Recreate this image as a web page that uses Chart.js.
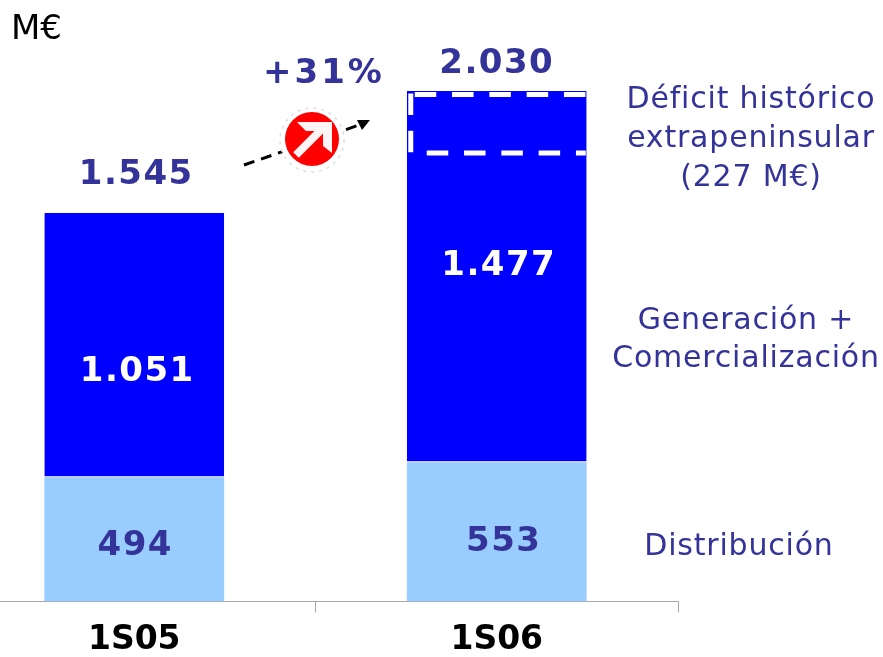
<!DOCTYPE html>
<html>
<head>
<meta charset="utf-8">
<script src="https://cdn.jsdelivr.net/npm/chart.js@4"></script>
<style>
html, body { margin: 0; padding: 0; background: #fff; overflow: hidden; width: 883px; height: 657px; }
#wrap { position: absolute; left: -47px; top: 0; width: 930px; height: 668px; }
</style>
</head>
<body>
<div id="wrap"><canvas id="chart"></canvas></div>
<script>
// Values
const categories = ['1S05', '1S06'];
const distribucion = [494, 553];
const generacion = [1051, 1477];
const totals = [1545, 2030];
const deficit = 227;
const growthLabel = '+31%';
const unitLabel = 'M€';
const sideLabels = [
    ['Déficit histórico', 'extrapeninsular', '(227 M€)'],
    ['Generación +', 'Comercialización'],
    ['Distribución']
];

const navy = '#333399';
const valueFont = 'bold 34px "DejaVu Sans"';

// spanish thousands separator
function fmt(v) {
    return String(v).replace(/\B(?=(\d{3})+$)/g, '.');
}

// small nudges so labels sit where they do in the original, relative to the bars
const distOffset = [[1, 7], [7, 10]];
const genOffset = [[3, 27], [2, -11]];
const totalOffset = [[2, -38], [0, -27]];

const annotations = {
    id: 'annotations',
    afterDatasetsDraw(chart) {
        const { ctx, scales: { x, y } } = chart;
        ctx.save();
        ctx.textAlign = 'center';
        ctx.textBaseline = 'middle';
        ctx.fillStyle = navy;
        ctx.font = valueFont;
        ctx.letterSpacing = '1.5px';

        // totals above the stacks, then the values inside each segment
        categories.forEach((c, i) => {
            const cx = x.getPixelForValue(i);
            ctx.fillStyle = navy;
            ctx.fillText(fmt(totals[i]), cx + totalOffset[i][0], y.getPixelForValue(totals[i]) + totalOffset[i][1]);
            ctx.fillText(fmt(distribucion[i]), cx + distOffset[i][0], y.getPixelForValue(distribucion[i] / 2) + distOffset[i][1]);
            ctx.fillStyle = '#fff';
            ctx.fillText(fmt(generacion[i]), cx + genOffset[i][0], y.getPixelForValue(distribucion[i] + generacion[i] / 2) + genOffset[i][1]);
        });

        // dashed box for the deficit
        const left = x.getPixelForValue(1) - 90;
        const right = x.getPixelForValue(1) + 89;
        const top = y.getPixelForValue(totals[1]) + 3.5;
        const bottom = y.getPixelForValue(totals[1] - deficit) + 5;
        ctx.strokeStyle = '#fff';
        ctx.lineWidth = 5;
        ctx.setLineDash([21.5, 15.8]);
        ctx.beginPath();
        ctx.moveTo(left + 8, top);
        ctx.lineTo(right, top);
        ctx.stroke();
        ctx.beginPath();
        ctx.moveTo(left + 20, bottom);
        ctx.lineTo(right, bottom);
        ctx.stroke();
        ctx.beginPath();
        ctx.moveTo(left + 4, top - 1);
        ctx.lineTo(left + 4, bottom);
        ctx.stroke();
        ctx.setLineDash([]);

        // growth arrow between the two bars
        const ox = chart.canvas.getBoundingClientRect().left;
        const px = v => v - ox;
        ctx.strokeStyle = '#000';
        ctx.lineWidth = 3;
        ctx.setLineDash([11, 7]);
        ctx.beginPath();
        ctx.moveTo(px(244), 165);
        ctx.lineTo(px(362), 124);
        ctx.stroke();
        ctx.setLineDash([]);
        ctx.fillStyle = '#000';
        ctx.beginPath();
        ctx.moveTo(px(370), 120);
        ctx.lineTo(px(357), 120);
        ctx.lineTo(px(362), 130);
        ctx.closePath();
        ctx.fill();

        // red badge
        ctx.beginPath();
        ctx.arc(px(312), 140, 32, 0, Math.PI * 2);
        ctx.fillStyle = '#fff';
        ctx.fill();
        ctx.strokeStyle = '#dddddd';
        ctx.lineWidth = 1.5;
        ctx.setLineDash([3, 5]);
        ctx.stroke();
        ctx.setLineDash([]);
        ctx.beginPath();
        ctx.arc(px(312), 139, 27, 0, Math.PI * 2);
        ctx.fillStyle = '#f00';
        ctx.fill();
        ctx.strokeStyle = '#fff4f4';
        ctx.lineWidth = 8;
        ctx.beginPath();
        ctx.moveTo(px(296), 155);
        ctx.lineTo(px(325), 126);
        ctx.stroke();
        ctx.fillStyle = '#fff4f4';
        ctx.beginPath();
        ctx.moveTo(px(297), 122);
        ctx.lineTo(px(332), 122);
        ctx.lineTo(px(332), 153);
        ctx.lineTo(px(323), 146);
        ctx.lineTo(px(323), 131);
        ctx.lineTo(px(306), 131);
        ctx.closePath();
        ctx.fill();

        // free text
        ctx.fillStyle = navy;
        ctx.font = valueFont;
        ctx.letterSpacing = '3px';
        ctx.fillText(growthLabel, px(324), 74);

        ctx.letterSpacing = '0px';
        ctx.font = '34px "DejaVu Sans"';
        ctx.fillStyle = '#000';
        ctx.textAlign = 'left';
        ctx.fillText(unitLabel, px(11), 30);

        ctx.letterSpacing = '0.8px';
        ctx.font = '30px "DejaVu Sans"';
        ctx.fillStyle = navy;
        ctx.textAlign = 'center';
        sideLabels[0].forEach((t, i) => ctx.fillText(t, px(751), 100 + i * 39));
        sideLabels[1].forEach((t, i) => ctx.fillText(t, px(746), 321 + i * 38));
        sideLabels[2].forEach(t => ctx.fillText(t, px(739), 547));
        ctx.restore();
    }
};

new Chart(document.getElementById('chart'), {
    type: 'bar',
    data: {
        labels: categories,
        datasets: [{
            label: 'Distribución',
            data: distribucion,
            backgroundColor: '#99ccff',
            borderWidth: 0,
            barPercentage: 0.496,
            categoryPercentage: 1
        }, {
            label: 'Generación + Comercialización',
            data: generacion,
            backgroundColor: '#0000ff',
            borderColor: '#ffffff',
            borderWidth: { bottom: 1 },
            borderSkipped: false,
            barPercentage: 0.496,
            categoryPercentage: 1
        }]
    },
    plugins: [annotations],
    options: {
        responsive: true,
        maintainAspectRatio: false,
        animation: false,
        layout: { padding: { left: 0, right: 205, top: 0, bottom: 0 } },
        plugins: { legend: { display: false }, tooltip: { enabled: false } },
        scales: {
            x: {
                stacked: true,
                grid: { drawOnChartArea: false, drawTicks: true, tickLength: 11, color: '#a8a8a8' },
                border: { color: '#a8a8a8', width: 1 },
                ticks: { color: '#000', font: { family: 'DejaVu Sans', size: 33, weight: 'bold' }, padding: 8, maxRotation: 0 }
            },
            y: {
                stacked: true,
                display: false,
                min: 0,
                max: 2392
            }
        }
    }
});
</script>
</body>
</html>
